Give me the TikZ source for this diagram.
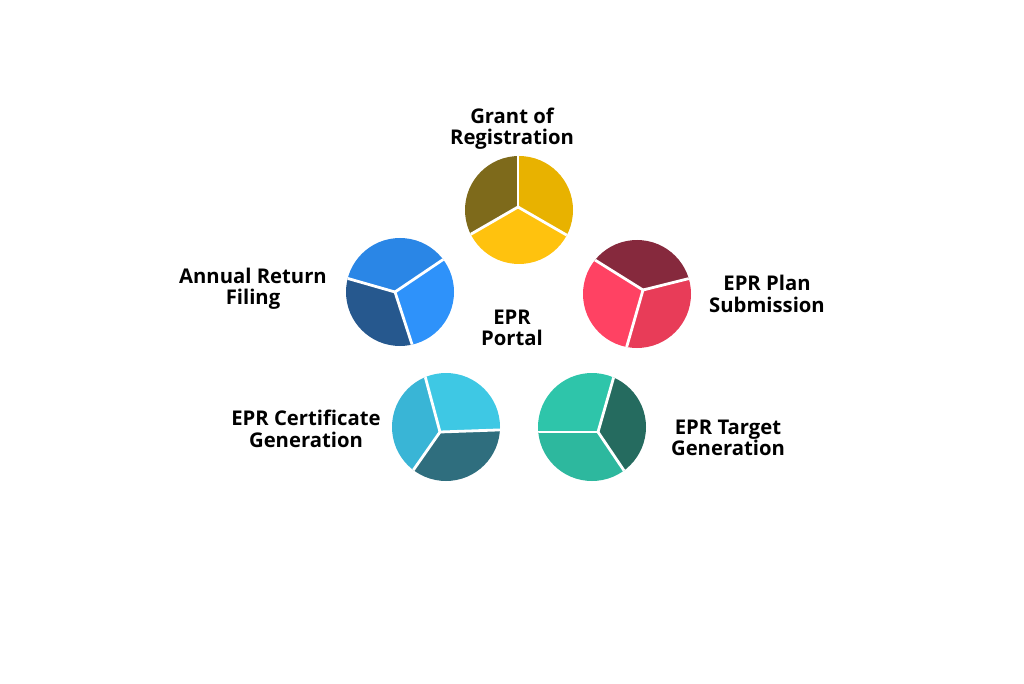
\documentclass[tikz,border=0pt]{standalone}
\usepackage{fontspec}
\setmainfont{Open Sans}
\usepackage{tikz}
\usetikzlibrary{positioning}
\usepackage{xcolor}

\definecolor{olive}{HTML}{7E6A1B}
\definecolor{goldtop}{HTML}{E8B200}
\definecolor{goldlow}{HTML}{FFC20E}
\definecolor{bluetop}{HTML}{2A86E6}
\definecolor{blueright}{HTML}{2E92FA}
\definecolor{bluedark}{HTML}{26588E}
\definecolor{maroon}{HTML}{86293D}
\definecolor{redleft}{HTML}{FF4263}
\definecolor{redlow}{HTML}{E83C58}
\definecolor{cyantop}{HTML}{3EC8E4}
\definecolor{cyanleft}{HTML}{39B5D6}
\definecolor{cyandark}{HTML}{2F6E7E}
\definecolor{tealtop}{HTML}{2EC5AA}
\definecolor{teallow}{HTML}{2DB89E}
\definecolor{tealdark}{HTML}{256B5F}

% pie: circle node, hub, three divider angles, three colours
\newcommand{\threepie}[8]{
  \begin{scope}
    \clip (#1.center) circle[radius=54];
    \fill[#6] (#2) -- ++(#3:150) arc[start angle=#3, end angle=#4, radius=150] -- cycle;
    \fill[#7] (#2) -- ++(#4:150) arc[start angle=#4, end angle=#5, radius=150] -- cycle;
    \fill[#8] (#2) -- ++(#5:150) arc[start angle=#5, end angle=#3+360, radius=150] -- cycle;
    \draw[divider] (#2) -- ++(#3:150);
    \draw[divider] (#2) -- ++(#4:150);
    \draw[divider] (#2) -- ++(#5:150);
  \end{scope}
}

\begin{document}
\begin{tikzpicture}[
    x=0.75pt, y=0.75pt,
    disc/.style={circle, minimum size=81pt, inner sep=0pt},
    label/.style={align=center, font=\fontsize{15.2}{16}\selectfont\bfseries, text=black},
    divider/.style={draw=white, line width=2.1pt}
]
\useasboundingbox[fill=white] (0,0) rectangle (1024,683);

% Grant of Registration
\node (gold) [disc] at (519,473) {};
\coordinate (goldhub) at (518,476);
\threepie{gold}{goldhub}{90}{210}{330}{olive}{goldlow}{goldtop}
\node (grant) [label] at (512,554) {Grant of\\Registration};

% Annual Return Filing
\node (blue) [disc] at (400,391) {};
\coordinate (bluehub) at (395,391);
\threepie{blue}{bluehub}{34}{164}{288}{bluetop}{bluedark}{blueright}
\node (annual) [label] at (253,394) {Annual Return\\Filing};

% EPR Plan Submission
\node (red) [disc] at (637,389) {};
\coordinate (redhub) at (643,393);
\threepie{red}{redhub}{14}{148}{254}{maroon}{redleft}{redlow}
\node (plan) [label] at (767,389) {EPR Plan\\Submission};

% EPR Certificate Generation
\node (cyan) [disc] at (446,256) {};
\coordinate (cyanhub) at (440,251);
\threepie{cyan}{cyanhub}{2}{105}{235}{cyantop}{cyanleft}{cyandark}
\node (certificate) [label] at (306,254) {EPR Certificate\\Generation};

% EPR Target Generation
\node (teal) [disc] at (592,256) {};
\coordinate (tealhub) at (598,251);
\threepie{teal}{tealhub}{74}{180}{304}{tealtop}{teallow}{tealdark}
\node (target) [label] at (728,245) {EPR Target\\Generation};

% EPR Portal
\node (portal) [label] at (512,355) {EPR\\Portal};

\end{tikzpicture}
\end{document}
